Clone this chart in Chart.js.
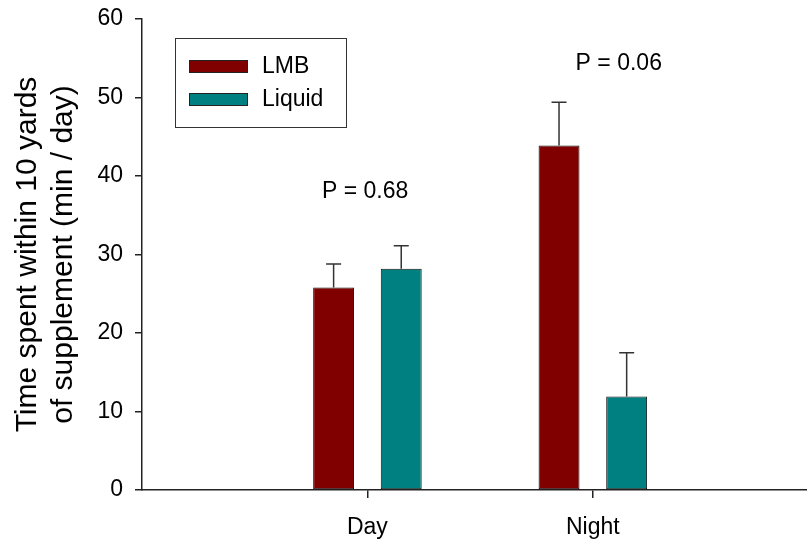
<!DOCTYPE html>
<html>
<head>
<meta charset="utf-8">
<script src="https://cdn.jsdelivr.net/npm/chart.js@4"></script>
<style>
  html, body { margin: 0; padding: 0; background: #fff; }
  #wrap { width: 807px; height: 541px; }
</style>
</head>
<body>
<div id="wrap"><canvas id="myChart" width="807" height="541"></canvas></div>
<script>
const categories = ["Day", "Night"];
const lmbValues = [25.8, 43.9];
const lmbErrors = [3.0, 5.5];
const liquidValues = [28.2, 11.9];
const liquidErrors = [2.9, 5.6];
const yTicks = [0, 10, 20, 30, 40, 50, 60];
const pLabels = ["P = 0.68", "P = 0.06"];

const font = "'Liberation Sans', Arial, sans-serif";
const axisColor = "#222";

// upper error bars only, with a short cap
const errorBars = {
  id: "errorBars",
  afterDatasetsDraw(chart) {
    const ctx = chart.ctx;
    const y = chart.scales.y;
    ctx.save();
    ctx.strokeStyle = "#333";
    ctx.lineWidth = 1.5;
    chart.data.datasets.forEach((ds, di) => {
      const meta = chart.getDatasetMeta(di);
      meta.data.forEach((bar, i) => {
        const top = y.getPixelForValue(ds.data[i].y + ds.errors[i]);
        ctx.beginPath();
        ctx.moveTo(bar.x, bar.y);
        ctx.lineTo(bar.x, top);
        ctx.moveTo(bar.x - 7.5, top);
        ctx.lineTo(bar.x + 7.5, top);
        ctx.stroke();
      });
    });
    ctx.restore();
  }
};

// boxed legend in the upper left + the P value notes
const extras = {
  id: "extras",
  afterDraw(chart) {
    const ctx = chart.ctx;
    ctx.save();
    ctx.strokeStyle = "#333";
    ctx.lineWidth = 1;
    ctx.strokeRect(175.5, 38.5, 171, 89);
    ctx.font = "23px " + font;
    ctx.textBaseline = "middle";
    ctx.textAlign = "left";
    chart.data.datasets.forEach((ds, i) => {
      const top = 60 + i * 33;
      ctx.fillStyle = ds.backgroundColor;
      ctx.fillRect(189, top, 59, 13);
      ctx.strokeStyle = "#222";
      ctx.strokeRect(189.5, top + 0.5, 58, 12);
      ctx.fillStyle = "#000";
      ctx.fillText(ds.label, 262, top + 7);
    });

    const xs = chart.scales.x, ys = chart.scales.y;
    ctx.textAlign = "center";
    ctx.fillText(pLabels[0], xs.getPixelForValue(0.99), ys.getPixelForValue(38));
    ctx.fillText(pLabels[1], xs.getPixelForValue(2.115), ys.getPixelForValue(54.3));
    ctx.restore();
  }
};

new Chart(document.getElementById("myChart").getContext("2d"), {
  type: "bar",
  data: {
    datasets: [
      {
        label: "LMB",
        data: lmbValues.map((v, i) => ({ x: i + 1, y: v })),
        errors: lmbErrors,
        backgroundColor: "rgb(128, 0, 0)",
        borderColor: "#111",
        borderWidth: 1,
        borderSkipped: false,
        categoryPercentage: 0.6,
        barPercentage: 0.605,
      },
      {
        label: "Liquid",
        data: liquidValues.map((v, i) => ({ x: i + 1, y: v })),
        errors: liquidErrors,
        backgroundColor: "rgb(0, 128, 128)",
        borderColor: "#111",
        borderWidth: 1,
        borderSkipped: false,
        categoryPercentage: 0.6,
        barPercentage: 0.605,
      },
    ],
  },
  options: {
    responsive: false,
    animation: false,
    layout: { padding: { top: 19, right: 0, left: 0, bottom: 0 } },
    plugins: {
      legend: { display: false },
      tooltip: { enabled: false },
    },
    scales: {
      x: {
        type: "linear",
        min: 0,
        max: 2.95,
        offset: false,
        afterBuildTicks: (scale) => {
          scale.ticks = categories.map((c, i) => ({ value: i + 1 }));
        },
        afterFit: (scale) => { scale.height = 51; },
        ticks: {
          color: "#000",
          font: { family: font, size: 23 },
          padding: 16,
          maxRotation: 0,
          autoSkip: false,
          callback: (v) => categories[v - 1],
        },
        grid: {
          offset: false,
          drawOnChartArea: false,
          tickLength: 8,
          color: axisColor,
          lineWidth: 1.5,
        },
        border: { color: axisColor, width: 1.5 },
      },
      y: {
        min: 0,
        max: 60,
        afterBuildTicks: (scale) => {
          scale.ticks = yTicks.map((v) => ({ value: v }));
        },
        afterFit: (scale) => {
          scale.width = 142;
          scale.paddingTop = 0;
          scale.paddingBottom = 0;
        },
        ticks: {
          color: "#000",
          font: { family: font, size: 23 },
          padding: 12,
        },
        grid: {
          drawOnChartArea: false,
          tickLength: 7,
          color: axisColor,
          lineWidth: 1.5,
        },
        border: { color: axisColor, width: 1.5 },
        title: {
          display: true,
          text: ["Time spent within 10 yards", "of supplement (min / day)"],
          color: "#000",
          font: { family: font, size: 30, lineHeight: 1.2 },
          padding: { top: 10, bottom: 0 },
        },
      },
    },
  },
  plugins: [errorBars, extras],
});
</script>
</body>
</html>
